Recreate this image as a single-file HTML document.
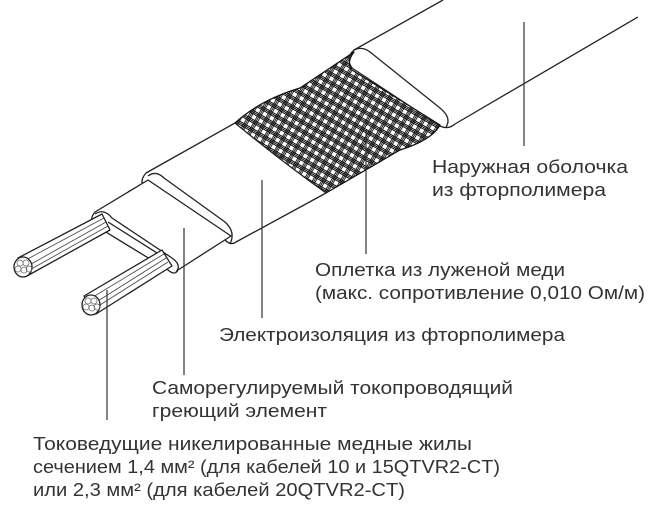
<!DOCTYPE html>
<html><head><meta charset="utf-8"><style>
html,body{margin:0;padding:0;background:#fff;}
svg{display:block}
text{font-family:"Liberation Sans",sans-serif;font-size:18px;fill:#333;}
</style></head><body>
<svg width="660" height="514" viewBox="0 0 660 514" xmlns="http://www.w3.org/2000/svg">
<defs>
<pattern id="br" width="8" height="8" patternUnits="userSpaceOnUse" patternTransform="rotate(30)">
<rect width="8" height="8" fill="#fff"/>
<path d="M0 1H8M0 2.5H8M0 4H8M1 0V8M2.5 0V8M4 0V8" stroke="#111" stroke-width="0.9"/>
</pattern>
</defs>
<g stroke="#222" stroke-width="1.3" fill="#fff" stroke-linejoin="round">
<path d="M443 0 L354 50 Q345 58 352 68 L440 126 Q448 130 455 124 L638 17" />
<path d="M354 50 Q362 46 370 52 L440 108 Q452 118 446 127" fill="none"/>
<path d="M354 52 Q346 62 352 70 L440 125 Q432 140 400 150 L326 193 Q300 175 245 140 L235 123 Q260 100 300 88 Z" fill="url(#br)" stroke="#111"/>
<path d="M235 123 L146 173 Q138 182 146 190 L225 240 Q231 246 236 242 L326 193 Q280 160 235 123 Z"/>
<path d="M148 176 Q156 170 164 178 L225 222 Q236 232 230 244" fill="none"/>
<path d="M148 180 L95 212 Q88 220 96 226 L168 270 Q175 276 178 270 L231 236 Z"/>
<path d="M95 214 Q104 208 112 218 L172 258 Q182 265 176 272" fill="none"/>
<path d="M108 222 L165 258" fill="none"/>
<path d="M102 214 L18 258 L27 276 L110 230 Z" fill="#fff"/>
<path d="M104 218 L22 262 M106 222 L24 268 M108 226 L26 272" stroke="#444" stroke-width="0.8" fill="none"/>
<ellipse cx="23" cy="267" rx="9" ry="10" fill="#fff"/>
<path d="M162 250 L84 296 L96 314 L172 266 Z" fill="#fff"/>
<path d="M164 254 L88 300 M166 258 L90 306 M168 262 L92 310" stroke="#444" stroke-width="0.8" fill="none"/>
<ellipse cx="91" cy="305" rx="9" ry="10" fill="#fff"/>
</g>
<g fill="none" stroke="#666" stroke-width="0.7">
<circle cx="20" cy="263" r="3"/><circle cx="26" cy="263" r="3"/><circle cx="18" cy="269" r="3"/><circle cx="24" cy="270" r="3"/><circle cx="29" cy="269" r="3"/>
<circle cx="88" cy="301" r="3"/><circle cx="94" cy="301" r="3"/><circle cx="86" cy="307" r="3"/><circle cx="92" cy="308" r="3"/><circle cx="97" cy="307" r="3"/>
</g>
<g stroke="#333" stroke-width="1.2">
<line x1="524" y1="22" x2="524" y2="146"/>
<line x1="366" y1="130" x2="366" y2="254"/>
<line x1="262" y1="180" x2="262" y2="318"/>
<line x1="184" y1="228" x2="184" y2="375"/>
<line x1="107" y1="290" x2="107" y2="420"/>
</g>
<text x="432" y="173" textLength="196" lengthAdjust="spacingAndGlyphs">Наружная оболочка</text>
<text x="432" y="196" textLength="174" lengthAdjust="spacingAndGlyphs">из фторполимера</text>
<text x="315" y="276" textLength="250" lengthAdjust="spacingAndGlyphs">Оплетка из луженой меди</text>
<text x="315" y="299" textLength="330" lengthAdjust="spacingAndGlyphs">(макс. сопротивление 0,010 Ом/м)</text>
<text x="219" y="341" textLength="346" lengthAdjust="spacingAndGlyphs">Электроизоляция из фторполимера</text>
<text x="152" y="394" textLength="361" lengthAdjust="spacingAndGlyphs">Саморегулируемый токопроводящий</text>
<text x="152" y="417" textLength="175" lengthAdjust="spacingAndGlyphs">греющий элемент</text>
<text x="33" y="450" textLength="439" lengthAdjust="spacingAndGlyphs">Токоведущие никелированные медные жилы</text>
<text x="33" y="473" textLength="467" lengthAdjust="spacingAndGlyphs">сечением 1,4 мм² (для кабелей 10 и 15QTVR2-CT)</text>
<text x="33" y="496" textLength="372" lengthAdjust="spacingAndGlyphs">или 2,3 мм² (для кабелей 20QTVR2-CT)</text>
</svg>
</body></html>
